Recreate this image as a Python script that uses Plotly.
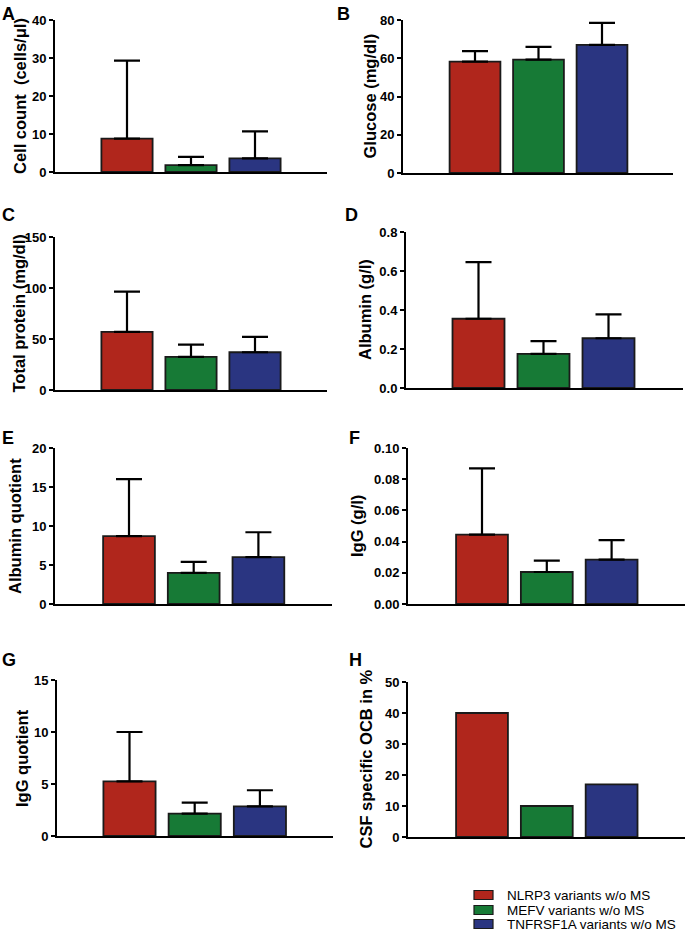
import plotly.graph_objects as go

W, H = 685, 932

groups = ["NLRP3 variants w/o MS", "MEFV variants w/o MS", "TNFRSF1A variants w/o MS"]
colors = ["#B0261C", "#177A36", "#2A3581"]

panel_letters = ["A", "B", "C", "D", "E", "F", "G", "H"]
y_titles = ["Cell count  (cells/\u03bcl)", "Glucose (mg/dl)", "Total protein (mg/dl)", "Albumin (g/l)",
            "Albumin quotient", "IgG (g/l)", "IgG quotient", "CSF specific OCB in %"]

cell_count = [8.8, 1.8, 3.6]
cell_count_upper = [29.3, 4.0, 10.7]
glucose = [58.2, 59.3, 67.0]
glucose_upper = [63.7, 66.0, 78.5]
total_protein = [57.0, 32.5, 37.0]
total_protein_upper = [96.5, 44.5, 52.0]
albumin = [0.355, 0.175, 0.255]
albumin_upper = [0.645, 0.24, 0.378]
albumin_quotient = [8.7, 4.0, 6.0]
albumin_quotient_upper = [16.0, 5.4, 9.2]
igg = [0.0445, 0.0205, 0.0285]
igg_upper = [0.087, 0.0278, 0.041]
igg_quotient = [5.25, 2.15, 2.85]
igg_quotient_upper = [10.0, 3.2, 4.4]
ocb_percent = [40, 10, 17]

values = [cell_count, glucose, total_protein, albumin, albumin_quotient, igg, igg_quotient, ocb_percent]
uppers = [cell_count_upper, glucose_upper, total_protein_upper, albumin_upper,
          albumin_quotient_upper, igg_upper, igg_quotient_upper, None]

y_max = [40, 80, 150, 0.8, 20, 0.10, 15, 50]
y_dtick = [10, 20, 50, 0.2, 5, 0.02, 5, 10]
y_fmt = ["d", "d", "d", ".1f", "d", ".2f", "d", "d"]

# pixel geometry of each panel: axis left, axis right, y top, y zero, first bar center, bar spacing
geom = [
    (55, 327, 20, 172, 127, 64),
    (403, 673, 20, 173, 475, 63.5),
    (55, 327, 237, 390, 127, 64),
    (406, 683, 232, 388, 478.5, 65),
    (55, 332, 448, 604, 129, 64.7),
    (408, 685, 448, 604, 482, 64.8),
    (57, 333, 680, 836, 129.5, 65.2),
    (408, 685, 682, 837, 482, 64.8),
]
# y-title centre x and letter positions (pixels)
title_x = [20, 369, 18, 365, 15, 357, 22, 365]
letter_pos = [(0, 2), (335, 2), (0, 203), (343, 203), (0, 426), (347, 426), (0, 648), (347, 648)]

# legend geometry (pixels)
legend_rows = [895, 910, 924]
swatch_x = (474, 493)
legend_text_x = 505

fig = go.Figure()
annotations = []
shapes = []
for i in range(8):
    xl, xr, yt, y0, c0, s = geom[i]
    xa = "x" if i == 0 else f"x{i+1}"
    ya = "y" if i == 0 else f"y{i+1}"
    for g in range(3):
        eb = None
        if uppers[i] is not None:
            eb = dict(type="data", symmetric=False, array=[uppers[i][g] - values[i][g]], arrayminus=[0],
                      color="black", thickness=2.2, width=13)
        fig.add_trace(go.Bar(
            x=[groups[g]], y=[values[i][g]], name=groups[g], legendgroup=groups[g],
            showlegend=False, width=0.8,
            marker=dict(color=colors[g], line=dict(color="#1a1a1a", width=1.8)),
            error_y=eb, xaxis=xa, yaxis=ya, hoverinfo="skip"))
    rl = -(c0 - xl) / s
    rr = 2 + (xr - (c0 + 2 * s)) / s
    xkey = "xaxis" if i == 0 else f"xaxis{i+1}"
    ykey = "yaxis" if i == 0 else f"yaxis{i+1}"
    fig.layout[xkey] = dict(domain=[xl / W, xr / W], range=[rl, rr], type="category",
                            categoryorder="array", categoryarray=groups, automargin=False,
                            showticklabels=False, ticks="", showline=True, linecolor="black",
                            linewidth=2, showgrid=False, zeroline=False, anchor=ya, fixedrange=True)
    fig.layout[ykey] = dict(domain=[1 - y0 / H, 1 - yt / H], range=[0, y_max[i]], dtick=y_dtick[i],
                            tick0=0, tickformat=y_fmt[i], ticks="outside", ticklen=4, tickwidth=2,
                            tickcolor="black", showline=True, linecolor="black", linewidth=2,
                            showgrid=False, zeroline=False, anchor=xa, automargin=False,
                            tickfont=dict(family="Liberation Sans, Arial", size=13, color="black", weight="bold"),
                            fixedrange=True)
    annotations.append(dict(text=y_titles[i], xref="paper", yref="paper",
                            x=title_x[i] / W, y=1 - ((yt + y0) / 2) / H, textangle=-90,
                            showarrow=False, xanchor="center", yanchor="middle",
                            font=dict(family="Liberation Sans, Arial", size=16.5, color="black", weight="bold")))
    lx, ly = letter_pos[i]
    annotations.append(dict(text=panel_letters[i], xref="paper", yref="paper",
                            x=lx / W, y=1 - ly / H, showarrow=False, xanchor="left", yanchor="top",
                            font=dict(family="Liberation Sans, Arial", size=18, color="black", weight="bold")))

# legend (swatch + label per group)
for g in range(3):
    cy = legend_rows[g]
    shapes.append(dict(type="rect", xref="paper", yref="paper",
                       x0=swatch_x[0] / W, x1=swatch_x[1] / W,
                       y0=1 - (cy + 4.5) / H, y1=1 - (cy - 4.5) / H,
                       fillcolor=colors[g], line=dict(color="#1a1a1a", width=1.2)))
    annotations.append(dict(text=groups[g], xref="paper", yref="paper",
                            x=legend_text_x / W, y=1 - cy / H, showarrow=False,
                            xanchor="left", yanchor="middle",
                            font=dict(family="Liberation Sans, Arial", size=13.5, color="black")))

fig.update_layout(
    width=W, height=H, margin=dict(l=0, r=0, t=0, b=0, autoexpand=False),
    paper_bgcolor="white", plot_bgcolor="white", showlegend=False,
    barmode="overlay", annotations=annotations, shapes=shapes,
)

fig.write_html("out.html", config={"displayModeBar": False},
               post_script="document.body.style.margin='0px';")
